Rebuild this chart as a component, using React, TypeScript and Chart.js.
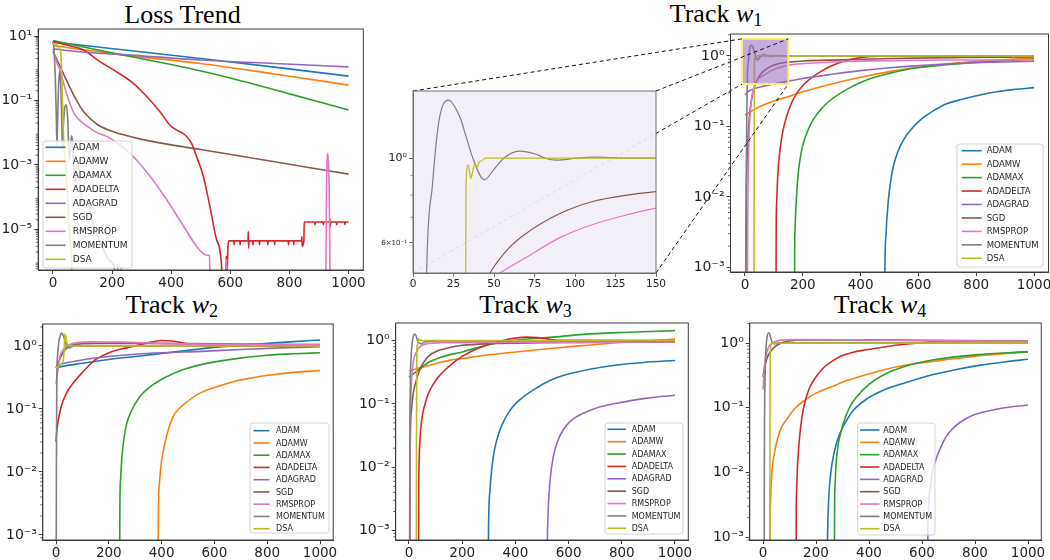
import React, { useEffect, useRef } from "react";
import { Chart, registerables } from "chart.js";

Chart.register(...registerables);
Chart.defaults.font.family = "'DejaVu Sans', sans-serif";

type Pt = [number, number];

const SERIES = ["ADAM", "ADAMW", "ADAMAX", "ADADELTA", "ADAGRAD", "SGD", "RMSPROP", "MOMENTUM", "DSA"];
const COLORS = ["#1f77b4", "#ff7f0e", "#2ca02c", "#d62728", "#9467bd", "#8c564b", "#e377c2", "#7f7f7f", "#bcbd22"];

const X_TICKS = [0, 200, 400, 600, 800, 1000];
const INSET_X_TICKS = [0, 25, 50, 75, 100, 125, 150];
const LOSS_Y_TICKS = [1e-5, 1e-3, 1e-1, 1e1];
const TRACK_Y_TICKS = [1e-3, 1e-2, 1e-1, 1];
const INSET_Y_TICKS = [0.6, 1];

// ---------------- Loss Trend ----------------
const LOSS_ADAM: Pt[] = [[0, 6.5], [250, 3.6], [500, 2.0], [750, 1.08], [1000, 0.57]];
const LOSS_ADAMW: Pt[] = [[0, 5.0], [250, 2.5], [500, 1.4], [750, 0.66], [1000, 0.3]];
const LOSS_ADAMAX: Pt[] = [[0, 7.2], [200, 3.0], [400, 1.3], [600, 0.5], [800, 0.16], [1000, 0.051]];
const LOSS_ADADELTA: Pt[] = [
  [0, 6.7], [46, 5.25], [103, 3.7], [159, 1.6], [215, 0.78], [272, 0.34], [328, 0.104], [362, 0.045],
  [396, 0.017], [419, 0.012], [447, 0.0085], [469, 0.0047], [486, 0.0018], [509, 4.4e-4], [531, 5.1e-5],
  [554, 4.7e-6], [572, 4e-7], [575, 1e-8], [580, 2e-7], [583, 1e-8], [586, 1.5e-6], [589, 4e-7], [592, 3e-6],
  [596, 4.4e-6], [612, 4.4e-6], [613, 3.3e-6], [614, 4.4e-6], [632, 4.4e-6], [633, 3.3e-6], [634, 4.4e-6],
  [660, 4.4e-6], [661, 8.5e-6], [662, 2.6e-6], [663, 4.4e-6], [676, 4.4e-6], [677, 3.3e-6], [678, 4.4e-6],
  [698, 4.4e-6], [699, 3.3e-6], [700, 4.4e-6], [726, 4.4e-6], [727, 3.3e-6], [728, 4.4e-6], [749, 4.4e-6],
  [750, 3.3e-6], [751, 4.4e-6], [796, 4.4e-6], [797, 3.3e-6], [798, 4.4e-6], [814, 4.4e-6], [815, 3.3e-6],
  [816, 4.4e-6], [841, 4.4e-6], [842, 6e-6], [843, 3e-6], [849, 4.4e-6], [850, 1.7e-5], [885, 1.7e-5],
  [886, 1.4e-5], [887, 1.7e-5], [914, 1.7e-5], [915, 1.4e-5], [916, 1.7e-5], [936, 1.7e-5], [937, 2.2e-5],
  [938, 1.2e-5], [939, 1.7e-5], [959, 1.7e-5], [960, 1.4e-5], [961, 1.7e-5], [987, 1.7e-5], [988, 1.4e-5],
  [989, 1.7e-5], [1000, 1.7e-5],
];
const LOSS_ADAGRAD: Pt[] = [[0, 4.0], [100, 3.2], [250, 2.6], [500, 1.8], [750, 1.4], [1000, 1.1]];
const LOSS_SGD: Pt[] = [
  [0, 3.3], [25, 1.1], [50, 0.35], [75, 0.12], [100, 0.05], [125, 0.028], [150, 0.018], [200, 0.011],
  [300, 0.0062], [500, 0.003], [750, 0.00125], [1000, 0.00052],
];
const LOSS_RMSPROP: Pt[] = [
  [0, 4.0], [12, 1.6], [25, 0.8], [40, 0.25], [59, 0.074], [75, 0.035], [93, 0.023], [120, 0.015], [141, 0.011],
  [193, 0.0068], [272, 0.0018], [329, 4.4e-4], [385, 8.3e-5], [442, 1.25e-5], [487, 2.9e-6], [518, 1.6e-6],
  [530, 1.5e-6], [531.5, 1e-8], [584, 1e-8], [588, 1.2e-6], [592, 1e-8], [921, 1e-8], [926, 3e-4],
  [930, 2.3e-3], [934, 3e-4], [940, 1e-8], [1000, 1e-8],
];
const LOSS_MOMENTUM: Pt[] = [
  [0, 7], [4, 3], [8, 0.5], [11, 0.04], [13.5, 0.004], [16, 0.03], [19, 0.3], [22.6, 0.8], [26, 0.35],
  [29.5, 0.03], [32, 0.003], [35, 0.015], [40, 0.06], [45, 0.074], [50, 0.025], [54, 0.002], [57, 0.0015],
  [61, 0.006], [64, 0.008], [68, 0.003], [72, 4e-4], [76, 3e-4], [81, 9e-4], [86, 1e-3], [93, 2e-4],
  [100, 6e-5], [110, 8e-5], [120, 6e-5], [135, 1.5e-5], [155, 5e-6], [175, 2e-6], [195, 1e-6], [208, 6e-7],
  [212, 1e-8], [219, 8e-7], [225, 1e-8], [231, 7e-7], [237, 1e-8],
];
const LOSS_DSA: Pt[] = [
  [0, 6], [10, 5.5], [18, 5], [24, 4], [27, 2.5], [30, 0.6], [33, 0.05], [36, 0.007], [40, 0.0022],
  [45, 4e-4], [50, 8e-5], [55, 1.5e-5], [60, 2.5e-6], [64, 5e-7], [66, 1e-8],
];

// ---------------- Track w1 ----------------
const W1_ADAM: Pt[] = [[481, 1e-5], [484, 9e-4], [488, 0.003], [496, 0.0089], [505, 0.0178], [513, 0.027], [530, 0.045], [548, 0.064], [575, 0.091], [606, 0.123], [650, 0.165], [698, 0.21], [755, 0.245], [813, 0.28], [870, 0.31], [928, 0.333], [1000, 0.355]];
const W1_ADAMW: Pt[] = [[0, 0.145], [50, 0.19], [100, 0.23], [150, 0.265], [200, 0.31], [300, 0.4], [400, 0.5], [500, 0.6], [600, 0.69], [700, 0.77], [800, 0.84], [900, 0.89], [1000, 0.93]];
const W1_ADAMAX: Pt[] = [[170.5, 1e-5], [172, 0.0018], [173, 0.0032], [175, 0.0055], [179, 0.0112], [184, 0.021], [190, 0.033], [200, 0.054], [213, 0.079], [235, 0.123], [260, 0.17], [290, 0.226], [329, 0.295], [370, 0.367], [421, 0.457], [500, 0.566], [582, 0.668], [700, 0.75], [850, 0.835], [1000, 0.9]];
const W1_ADADELTA: Pt[] = [[106.5, 1e-5], [108, 0.0028], [110, 0.0089], [114, 0.022], [121, 0.046], [130, 0.081], [144, 0.138], [160, 0.21], [179, 0.295], [205, 0.4], [236, 0.51], [265, 0.61], [294, 0.71], [330, 0.81], [352, 0.87], [380, 0.92], [410, 0.96], [450, 0.985], [500, 1.0], [1000, 1.0]];
const W1_ADAGRAD: Pt[] = [[0, 0.28], [10, 0.31], [30, 0.34], [60, 0.37], [100, 0.4], [150, 0.44], [200, 0.48], [300, 0.55], [400, 0.62], [500, 0.68], [600, 0.73], [800, 0.8], [1000, 0.84]];
const W1_SGD: Pt[] = [[2, 1e-4], [5, 0.01], [10, 0.06], [20, 0.2], [30, 0.33], [40, 0.43], [47.5, 0.5], [60, 0.586], [70, 0.636], [91, 0.717], [111, 0.77], [132, 0.8], [150, 0.817], [200, 0.85], [329, 0.88], [500, 0.92], [750, 0.95], [1000, 0.97]];
const W1_RMSPROP: Pt[] = [[8, 1e-5], [9, 0.001], [12, 0.03], [18, 0.15], [25, 0.28], [35, 0.4], [45, 0.47], [53.7, 0.5], [70, 0.55], [91, 0.62], [111, 0.67], [132, 0.71], [150, 0.74], [200, 0.78], [329, 0.83], [500, 0.86], [700, 0.875], [924, 0.88], [928, 0.96], [932, 0.88], [1000, 0.88]];
const W1_MOMENTUM: Pt[] = [[0, 1e-5], [4, 0.01], [6, 0.1], [8.4, 0.5], [12, 0.85], [16, 1.25], [21.8, 1.42], [29, 1.28], [33, 1.13], [37, 1.0], [44, 0.877], [49.6, 0.93], [56, 1.0], [65.6, 1.044], [76, 1.024], [82, 0.998], [88.5, 0.988], [101, 1.0], [111, 1.006], [132, 1.0], [1000, 1.0]];
const W1_DSA: Pt[] = [[31, 1e-5], [31.7, 0.01], [32.7, 0.84], [34.1, 0.96], [35.7, 0.885], [37.2, 0.94], [38.3, 0.967], [39.7, 0.947], [40.9, 0.977], [42.4, 0.985], [43.8, 0.996], [45.4, 1.0], [1000, 1.0]];

// ---------------- Track w2 ----------------
const W2_ADAM: Pt[] = [[0, 0.45], [20, 0.47], [100, 0.53], [200, 0.61], [300, 0.68], [400, 0.76], [500, 0.85], [600, 0.95], [700, 1.03], [800, 1.1], [900, 1.17], [1000, 1.24]];
const W2_ADAMW: Pt[] = [[384.5, 1e-5], [388, 0.0028], [392, 0.0068], [398, 0.0129], [407, 0.0224], [420, 0.039], [444, 0.076], [465, 0.1], [490, 0.124], [545, 0.178], [600, 0.219], [672, 0.271], [740, 0.31], [798, 0.34], [900, 0.38], [1000, 0.407]];
const W2_ADAMAX: Pt[] = [[239.5, 1e-5], [242, 0.0028], [245, 0.008], [250, 0.018], [257, 0.033], [268, 0.059], [285, 0.092], [318, 0.158], [360, 0.23], [419, 0.324], [480, 0.417], [545, 0.5], [650, 0.6], [798, 0.71], [900, 0.75], [1000, 0.78]];
const W2_ADADELTA: Pt[] = [[0, 0.03], [3, 0.045], [9, 0.067], [20, 0.11], [40, 0.18], [66, 0.26], [100, 0.38], [148, 0.6], [192, 0.75], [250, 0.9], [300, 1.0], [350, 1.13], [400, 1.22], [440, 1.2], [500, 1.08], [550, 1.02], [650, 1.0], [1000, 1.0]];
const W2_ADAGRAD: Pt[] = [[0, 0.45], [15, 0.5], [40, 0.54], [70, 0.57], [120, 0.62], [200, 0.68], [300, 0.74], [400, 0.78], [550, 0.82], [700, 0.88], [850, 0.93], [1000, 0.97]];
const W2_SGD: Pt[] = [[0, 0.45], [10, 0.55], [20, 0.7], [30, 0.83], [45, 0.95], [66, 1.04], [100, 1.09], [150, 1.1], [300, 1.1], [500, 1.09], [700, 1.07], [1000, 1.05]];
const W2_RMSPROP: Pt[] = [[0, 0.25], [5, 0.35], [10, 0.5], [15, 0.68], [25, 0.85], [40, 0.98], [60, 1.08], [80, 1.13], [130, 1.16], [250, 1.15], [400, 1.1], [600, 1.06], [1000, 1.05]];
const W2_MOMENTUM: Pt[] = [[0, 1e-5], [1.5, 0.01], [3, 0.3], [6, 0.7], [10, 1.1], [15, 1.4], [22, 1.6], [28, 1.45], [35, 1.15], [42, 0.98], [50, 0.93], [60, 0.97], [75, 1.02], [100, 1.0], [1000, 1.0]];
const W2_DSA: Pt[] = [[0, 0.45], [10, 0.48], [20, 0.52], [28, 0.6], [31, 0.9], [34, 1.58], [36, 1.3], [38, 1.45], [40, 1.15], [43, 1.05], [47, 1.0], [1000, 1.0]];

// ---------------- Track w3 ----------------
const W3_ADAM: Pt[] = [[295.5, 1e-5], [299, 0.0011], [304.5, 0.0044], [312, 0.01], [320, 0.0174], [330, 0.027], [350, 0.047], [380, 0.079], [420, 0.119], [468, 0.166], [530, 0.234], [593, 0.29], [680, 0.352], [781, 0.41], [880, 0.45], [1000, 0.485]];
const W3_ADAMW: Pt[] = [[0, 0.33], [50, 0.38], [100, 0.43], [155, 0.49], [200, 0.52], [280, 0.58], [400, 0.66], [530, 0.75], [650, 0.83], [781, 0.92], [900, 0.99], [1000, 1.05]];
const W3_ADAMAX: Pt[] = [[0, 0.265], [30, 0.33], [73, 0.45], [130, 0.56], [200, 0.66], [300, 0.86], [361, 0.95], [405, 1.02], [550, 1.14], [655, 1.25], [800, 1.34], [1000, 1.43]];
const W3_ADADELTA: Pt[] = [[35.5, 1e-5], [36.5, 0.004], [38, 0.012], [40, 0.022], [43, 0.035], [47.7, 0.056], [55, 0.082], [62, 0.105], [72.6, 0.145], [90, 0.2], [110, 0.265], [135, 0.343], [165, 0.44], [198, 0.556], [230, 0.66], [260.5, 0.753], [300, 0.87], [361, 1.02], [400, 1.09], [440, 1.13], [480, 1.11], [520, 1.06], [560, 1.01], [1000, 1.0]];
const W3_ADAGRAD: Pt[] = [[517.5, 1e-5], [520.5, 8.5e-4], [521.5, 0.00126], [523.8, 0.0024], [530, 0.006], [542.5, 0.0147], [557.5, 0.025], [580, 0.039], [612.5, 0.056], [655, 0.071], [707.5, 0.087], [781, 0.102], [887.5, 0.122], [1000, 0.137]];
const W3_SGD: Pt[] = [[3, 1e-5], [4, 0.01], [8, 0.07], [15, 0.14], [23, 0.2], [35, 0.3], [48, 0.4], [70, 0.55], [98, 0.66], [150, 0.77], [200, 0.84], [300, 0.89], [500, 0.92], [1000, 0.95]];
const W3_RMSPROP: Pt[] = [[2, 1e-5], [3, 0.01], [6, 0.1], [10, 0.25], [16, 0.46], [25, 0.62], [35, 0.75], [50, 0.84], [73, 0.9], [120, 0.92], [300, 0.93], [1000, 0.95]];
const W3_MOMENTUM: Pt[] = [[2, 1e-5], [3, 0.01], [5, 0.2], [8, 0.55], [12, 0.9], [16, 1.15], [21, 1.27], [26, 1.2], [32, 1.0], [40, 0.9], [47, 0.88], [55, 0.93], [70, 0.97], [100, 0.98], [1000, 0.98]];
const W3_DSA: Pt[] = [[27, 1e-5], [28, 0.01], [29, 0.3], [30, 0.8], [32, 0.85], [34, 0.95], [36, 1.06], [40, 1.02], [45, 1.0], [1000, 1.0]];

// ---------------- Track w4 ----------------
const W4_ADAM: Pt[] = [[241.5, 1e-5], [243, 0.00055], [244, 0.0012], [246, 0.0025], [250, 0.0054], [256, 0.01], [265, 0.0174], [276, 0.027], [290, 0.04], [312, 0.06], [341, 0.091], [390, 0.135], [454, 0.186], [540, 0.245], [643, 0.325], [730, 0.39], [820, 0.455], [910, 0.51], [1000, 0.56]];
const W4_ADAMW: Pt[] = [[25, 1e-5], [26.5, 0.0014], [28, 0.003], [30, 0.005], [33, 0.0095], [38, 0.015], [45, 0.022], [55, 0.033], [70, 0.05], [94, 0.07], [120, 0.097], [157, 0.13], [200, 0.168], [258, 0.21], [320, 0.265], [384, 0.32], [460, 0.39], [547, 0.46], [700, 0.56], [850, 0.655], [1000, 0.73]];
const W4_ADAMAX: Pt[] = [[268.5, 1e-5], [270, 0.0022], [272, 0.0063], [275, 0.012], [278, 0.0174], [285, 0.029], [293, 0.04], [303, 0.057], [325, 0.098], [354, 0.148], [400, 0.23], [454, 0.32], [540, 0.44], [643, 0.55], [820, 0.665], [1000, 0.735]];
const W4_ADADELTA: Pt[] = [[124, 1e-5], [125.5, 0.0025], [127, 0.0055], [130, 0.012], [135, 0.025], [142, 0.05], [150, 0.085], [160, 0.13], [175, 0.2], [195, 0.28], [215, 0.36], [233, 0.43], [260, 0.52], [295, 0.63], [340, 0.72], [384, 0.78], [450, 0.86], [509, 0.93], [600, 1.01], [700, 1.05], [1000, 1.05]];
const W4_ADAGRAD: Pt[] = [[620.5, 1e-5], [622, 0.0012], [624, 0.0024], [627, 0.0042], [630, 0.0055], [637, 0.009], [645, 0.0125], [655, 0.017], [672, 0.025], [690, 0.035], [706, 0.043], [740, 0.058], [794, 0.077], [850, 0.089], [900, 0.098], [1000, 0.11]];
const W4_SGD: Pt[] = [[0, 0.3], [5, 0.4], [10, 0.5], [20, 0.65], [30, 0.75], [45, 0.88], [69, 1.0], [100, 1.08], [150, 1.12], [300, 1.12], [600, 1.1], [1000, 1.07]];
const W4_RMSPROP: Pt[] = [[0, 0.19], [3, 0.3], [6, 0.45], [10, 0.6], [20, 0.85], [35, 1.0], [55, 1.08], [80, 1.12], [130, 1.13], [300, 1.12], [600, 1.09], [1000, 1.06]];
const W4_MOMENTUM: Pt[] = [[4, 1e-5], [5, 0.01], [8, 0.3], [11, 0.8], [15, 1.2], [21, 1.44], [26, 1.35], [31, 1.12], [36, 1.0], [45, 0.97], [60, 1.0], [1000, 1.0]];
const W4_DSA: Pt[] = [[25, 1e-5], [26, 0.01], [27, 0.4], [29, 0.9], [32, 0.97], [40, 1.0], [1000, 1.0]];

// zoomed region indicated on Track w1
const ZOOM_X: [number, number] = [-10, 150];
const ZOOM_Y: [number, number] = [0.4, 1.75];

// ---------------- helpers ----------------
interface Box { l: number; t: number; r: number; b: number; }
interface LegendSpec { box: Box; row0: number; rowH: number; lineX: [number, number]; textX: number; font: number; }
interface PanelCfg {
  canvas: Box; plot: Box;
  xMin: number; xMax: number; xTicks: number[];
  yMin: number; yMax: number; yTicks: number[];
  series: Pt[][]; lineWidth: number;
  xFont: number; yFont: (v: number) => number;
  frameColor: string;
  legend?: LegendSpec;
  bg?: string;
  after?: (chart: any, ox: number, oy: number) => void;
}

const SUP: Record<string, string> = { "0": "⁰", "1": "¹", "2": "²", "3": "³", "4": "⁴", "5": "⁵", "6": "⁶", "7": "⁷", "8": "⁸", "9": "⁹", "-": "⁻" };
function fmtLog(v: number): string {
  const e = Math.floor(Math.log10(v) + 1e-9);
  const m = Math.round(v / Math.pow(10, e));
  const s = "10" + String(e).split("").map((c) => SUP[c]).join("");
  return m === 1 ? s : `${m}×${s}`;
}
function minorTicks(min: number, max: number, major: number[]): number[] {
  const out: number[] = [];
  for (let e = Math.floor(Math.log10(min)); e <= Math.ceil(Math.log10(max)); e++) {
    for (let m = 2; m <= 9; m++) {
      const v = m * Math.pow(10, e);
      if (v > min && v < max && !major.some((t) => Math.abs(t - v) / v < 1e-6)) out.push(v);
    }
  }
  return out;
}

const LOSS_PLOT: Box = { l: 38.2, t: 29, r: 363.3, b: 270 };
const W1_PLOT: Box = { l: 730.5, t: 34, r: 1048.5, b: 272 };
const INSET_PLOT: Box = { l: 413, t: 91, r: 656, b: 273 };
const W2_PLOT: Box = { l: 42.8, t: 324, r: 333.2, b: 540 };
const W3_PLOT: Box = { l: 395.7, t: 323, r: 688.3, b: 540 };
const W4_PLOT: Box = { l: 749.75, t: 323, r: 1041.25, b: 540 };

function Panel({ cfg }: { cfg: PanelCfg }) {
  const ref = useRef<HTMLCanvasElement>(null);
  const W = cfg.canvas.r - cfg.canvas.l;
  const H = cfg.canvas.b - cfg.canvas.t;
  useEffect(() => {
    const canvas = ref.current!;
    const ox = cfg.canvas.l, oy = cfg.canvas.t;
    const minors = minorTicks(cfg.yMin, cfg.yMax, cfg.yTicks);
    const deco = {
      id: "deco",
      beforeDraw(chart: any) {
        if (!cfg.bg) return;
        const a = chart.chartArea, ctx = chart.ctx;
        ctx.save();
        ctx.fillStyle = cfg.bg;
        ctx.fillRect(a.left, a.top, a.right - a.left, a.bottom - a.top);
        ctx.restore();
      },
      afterDatasetsDraw(chart: any) {
        if (cfg.after) cfg.after(chart, ox, oy);
      },
      afterDraw(chart: any) {
        const a = chart.chartArea, ctx = chart.ctx;
        ctx.save();
        ctx.strokeStyle = cfg.frameColor;
        ctx.lineWidth = 1;
        ctx.strokeRect(a.left, a.top, a.right - a.left, a.bottom - a.top);
        const ys = chart.scales.y;
        ctx.lineWidth = 0.8;
        for (const v of minors) {
          const py = ys.getPixelForValue(v);
          ctx.beginPath();
          ctx.moveTo(a.left - 2.5, py);
          ctx.lineTo(a.left, py);
          ctx.stroke();
        }
        const lg = cfg.legend;
        if (lg) {
          const x = lg.box.l - ox, y = lg.box.t - oy, w = lg.box.r - lg.box.l, h = lg.box.b - lg.box.t;
          ctx.beginPath();
          ctx.roundRect(x, y, w, h, 3);
          ctx.fillStyle = "rgba(255,255,255,0.8)";
          ctx.fill();
          ctx.strokeStyle = "#d4d4d4";
          ctx.lineWidth = 1;
          ctx.stroke();
          ctx.font = `${lg.font}px 'DejaVu Sans', sans-serif`;
          ctx.textBaseline = "middle";
          ctx.textAlign = "left";
          SERIES.forEach((name, i) => {
            const cy = lg.row0 - oy + i * lg.rowH;
            ctx.beginPath();
            ctx.strokeStyle = COLORS[i];
            ctx.lineWidth = 1.6;
            ctx.moveTo(lg.lineX[0] - ox, cy);
            ctx.lineTo(lg.lineX[1] - ox, cy);
            ctx.stroke();
            ctx.fillStyle = "#262626";
            ctx.fillText(name, lg.textX - ox, cy + 0.5);
          });
        }
        ctx.restore();
      },
    };
    const yAxisW = cfg.plot.l - cfg.canvas.l;
    const xAxisH = cfg.canvas.b - cfg.plot.b;
    const chart = new Chart(canvas, {
      type: "line",
      data: {
        datasets: cfg.series.map((pts, i) => ({
          label: SERIES[i],
          data: pts.map(([x, y]) => ({ x, y })),
          borderColor: COLORS[i],
          backgroundColor: COLORS[i],
          borderWidth: cfg.lineWidth,
          pointRadius: 0,
          fill: false,
          cubicInterpolationMode: "monotone",
          capBezierPoints: false,
          order: SERIES.length - i,
        })),
      },
      options: {
        responsive: false,
        animation: false,
        events: [],
        layout: {
          autoPadding: false,
          padding: { top: cfg.plot.t - cfg.canvas.t, right: cfg.canvas.r - cfg.plot.r, left: 0, bottom: 0 },
        },
        plugins: { legend: { display: false }, tooltip: { enabled: false }, title: { display: false } },
        scales: {
          x: {
            type: "linear",
            min: cfg.xMin,
            max: cfg.xMax,
            afterFit(s: any) { s.height = xAxisH; s.paddingLeft = 0; s.paddingRight = 0; },
            afterBuildTicks(s: any) { s.ticks = cfg.xTicks.map((v) => ({ value: v })); },
            ticks: {
              autoSkip: false, maxRotation: 0, minRotation: 0, padding: 1, color: "#222",
              font: { size: cfg.xFont },
              callback: (v: any) => String(v),
            },
            grid: { drawOnChartArea: false, drawTicks: true, tickLength: 4, color: cfg.frameColor, lineWidth: 1 },
            border: { display: true, color: cfg.frameColor },
          },
          y: {
            type: "logarithmic",
            min: cfg.yMin,
            max: cfg.yMax,
            afterFit(s: any) { s.width = yAxisW; s.paddingTop = 0; s.paddingBottom = 0; },
            afterBuildTicks(s: any) { s.ticks = cfg.yTicks.map((v) => ({ value: v })); },
            ticks: {
              autoSkip: false, padding: 2, color: "#222",
              font: (ctx: any) => ({ size: cfg.yFont(ctx.tick ? ctx.tick.value : 1) }),
              callback: (v: any) => fmtLog(Number(v)),
            },
            grid: { drawOnChartArea: false, drawTicks: true, tickLength: 4, color: cfg.frameColor, lineWidth: 1 },
            border: { display: true, color: cfg.frameColor },
          },
        },
      } as any,
      plugins: [deco],
    } as any);
    return () => chart.destroy();
  }, []);
  return (
    <canvas
      ref={ref}
      width={W}
      height={H}
      style={{ position: "absolute", left: cfg.canvas.l, top: cfg.canvas.t, width: W, height: H }}
    />
  );
}

function Title({ cx, base, children }: { cx: number; base: number; children: any }) {
  return (
    <div
      style={{
        position: "absolute", left: cx - 150, width: 300, top: base - 21.8, textAlign: "center",
        fontFamily: "'Liberation Serif', serif", fontSize: 26, lineHeight: "26px", color: "#000", whiteSpace: "nowrap",
      }}
    >
      {children}
    </div>
  );
}
function TrackTitle({ cx, base, n }: { cx: number; base: number; n: string }) {
  return (
    <Title cx={cx} base={base}>
      Track <i>w</i>
      <span style={{ fontSize: 18, position: "relative", top: 4 }}>{n}</span>
    </Title>
  );
}

const legendAt = (l: number, t: number, r: number, b: number, row0: number, rowH: number, lx0: number, lx1: number, tx: number, font: number): LegendSpec => ({
  box: { l, t, r, b }, row0, rowH, lineX: [lx0, lx1], textX: tx, font,
});

export default function App() {
  const std = (v: number) => 14;
  const lossCfg: PanelCfg = {
    canvas: { l: 0, t: 20, r: 372, b: 290 }, plot: LOSS_PLOT,
    xMin: -50, xMax: 1050, xTicks: X_TICKS,
    yMin: 5.5e-7, yMax: 16.5, yTicks: LOSS_Y_TICKS,
    series: [LOSS_ADAM, LOSS_ADAMW, LOSS_ADAMAX, LOSS_ADADELTA, LOSS_ADAGRAD, LOSS_SGD, LOSS_RMSPROP, LOSS_MOMENTUM, LOSS_DSA],
    lineWidth: 1.6, xFont: 13.5, yFont: std, frameColor: "#3c3c3c",
    legend: legendAt(43, 141, 132, 268, 147.3, 14, 45.5, 65.5, 72.7, 9),
  };
  const w1Series = [W1_ADAM, W1_ADAMW, W1_ADAMAX, W1_ADADELTA, W1_ADAGRAD, W1_SGD, W1_RMSPROP, W1_MOMENTUM, W1_DSA];
  const w1Cfg: PanelCfg = {
    canvas: { l: 400, t: 28, r: 1050, b: 290 }, plot: W1_PLOT,
    xMin: -50, xMax: 1050, xTicks: X_TICKS,
    yMin: 8.6e-4, yMax: 2.05, yTicks: TRACK_Y_TICKS,
    series: w1Series,
    lineWidth: 1.6, xFont: 13.5, yFont: std, frameColor: "#3c3c3c",
    legend: legendAt(957, 144, 1043, 267, 150.7, 13.45, 961.7, 981.7, 986.7, 8.5),
    after: (chart, ox, oy) => {
      const ctx = chart.ctx, xs = chart.scales.x, ys = chart.scales.y;
      const x0 = xs.getPixelForValue(ZOOM_X[0]), x1 = xs.getPixelForValue(ZOOM_X[1]);
      const y0 = ys.getPixelForValue(ZOOM_Y[1]), y1 = ys.getPixelForValue(ZOOM_Y[0]);
      ctx.save();
      ctx.fillStyle = "rgba(148,103,189,0.55)";
      ctx.fillRect(x0, y0, x1 - x0, y1 - y0);
      ctx.strokeStyle = "#f6f06a";
      ctx.lineWidth = 2;
      ctx.strokeRect(x0, y0, x1 - x0, y1 - y0);
      const ip = INSET_PLOT;
      const links = [
        [ip.l, ip.t, x0, y0], [ip.r, ip.t, x1, y0], [ip.l, ip.b, x0, y1], [ip.r, ip.b, x1, y1],
      ];
      ctx.setLineDash([4, 3]);
      ctx.strokeStyle = "#111";
      ctx.lineWidth = 1;
      for (const [px, py, qx, qy] of links) {
        ctx.beginPath();
        ctx.moveTo(px - ox, py - oy);
        ctx.lineTo(qx, qy);
        ctx.stroke();
      }
      ctx.restore();
    },
  };
  const insetCfg: PanelCfg = {
    canvas: { l: 372, t: 85, r: 672, b: 290 }, plot: INSET_PLOT,
    xMin: 0, xMax: 150, xTicks: INSET_X_TICKS,
    yMin: 0.5, yMax: 1.5, yTicks: INSET_Y_TICKS,
    series: w1Series,
    lineWidth: 1.2, xFont: 10.5, yFont: (v: number) => (v < 0.9 ? 7 : 11), frameColor: "#6e6e6e",
    bg: "rgba(241,237,247,0.9)",
  };
  const w2Cfg: PanelCfg = {
    canvas: { l: 0, t: 318, r: 345, b: 560 }, plot: W2_PLOT,
    xMin: -50, xMax: 1050, xTicks: X_TICKS,
    yMin: 8.3e-4, yMax: 2.23, yTicks: TRACK_Y_TICKS,
    series: [W2_ADAM, W2_ADAMW, W2_ADAMAX, W2_ADADELTA, W2_ADAGRAD, W2_SGD, W2_RMSPROP, W2_MOMENTUM, W2_DSA],
    lineWidth: 1.6, xFont: 13.5, yFont: std, frameColor: "#3c3c3c",
    legend: legendAt(250, 423, 329, 533, 430.7, 12.25, 253.5, 269.5, 276, 8),
  };
  const w3Cfg: PanelCfg = {
    canvas: { l: 350, t: 318, r: 700, b: 560 }, plot: W3_PLOT,
    xMin: -50, xMax: 1050, xTicks: X_TICKS,
    yMin: 7.1e-4, yMax: 1.89, yTicks: TRACK_Y_TICKS,
    series: [W3_ADAM, W3_ADAMW, W3_ADAMAX, W3_ADADELTA, W3_ADAGRAD, W3_SGD, W3_RMSPROP, W3_MOMENTUM, W3_DSA],
    lineWidth: 1.6, xFont: 13.5, yFont: std, frameColor: "#3c3c3c",
    legend: legendAt(605, 423, 683, 534, 429.3, 12.375, 607.5, 626, 631.7, 8),
  };
  const w4Cfg: PanelCfg = {
    canvas: { l: 705, t: 318, r: 1050, b: 560 }, plot: W4_PLOT,
    xMin: -50, xMax: 1050, xTicks: X_TICKS,
    yMin: 9.0e-4, yMax: 2.04, yTicks: TRACK_Y_TICKS,
    series: [W4_ADAM, W4_ADAMW, W4_ADAMAX, W4_ADADELTA, W4_ADAGRAD, W4_SGD, W4_RMSPROP, W4_MOMENTUM, W4_DSA],
    lineWidth: 1.6, xFont: 13.5, yFont: std, frameColor: "#3c3c3c",
    legend: legendAt(857.7, 423, 935, 535, 430, 12.34, 860, 879.5, 883.3, 8),
  };
  return (
    <div style={{ position: "fixed", left: 0, top: 0, width: 1050, height: 560, background: "#fff", overflow: "hidden" }}>
      <Title cx={182.5} base={24}>Loss Trend</Title>
      <TrackTitle cx={716} base={23} n="1" />
      <TrackTitle cx={171.7} base={314} n="2" />
      <TrackTitle cx={525.5} base={313.5} n="3" />
      <TrackTitle cx={880} base={314} n="4" />
      <Panel cfg={lossCfg} />
      <Panel cfg={w1Cfg} />
      <Panel cfg={insetCfg} />
      <Panel cfg={w2Cfg} />
      <Panel cfg={w3Cfg} />
      <Panel cfg={w4Cfg} />
    </div>
  );
}
